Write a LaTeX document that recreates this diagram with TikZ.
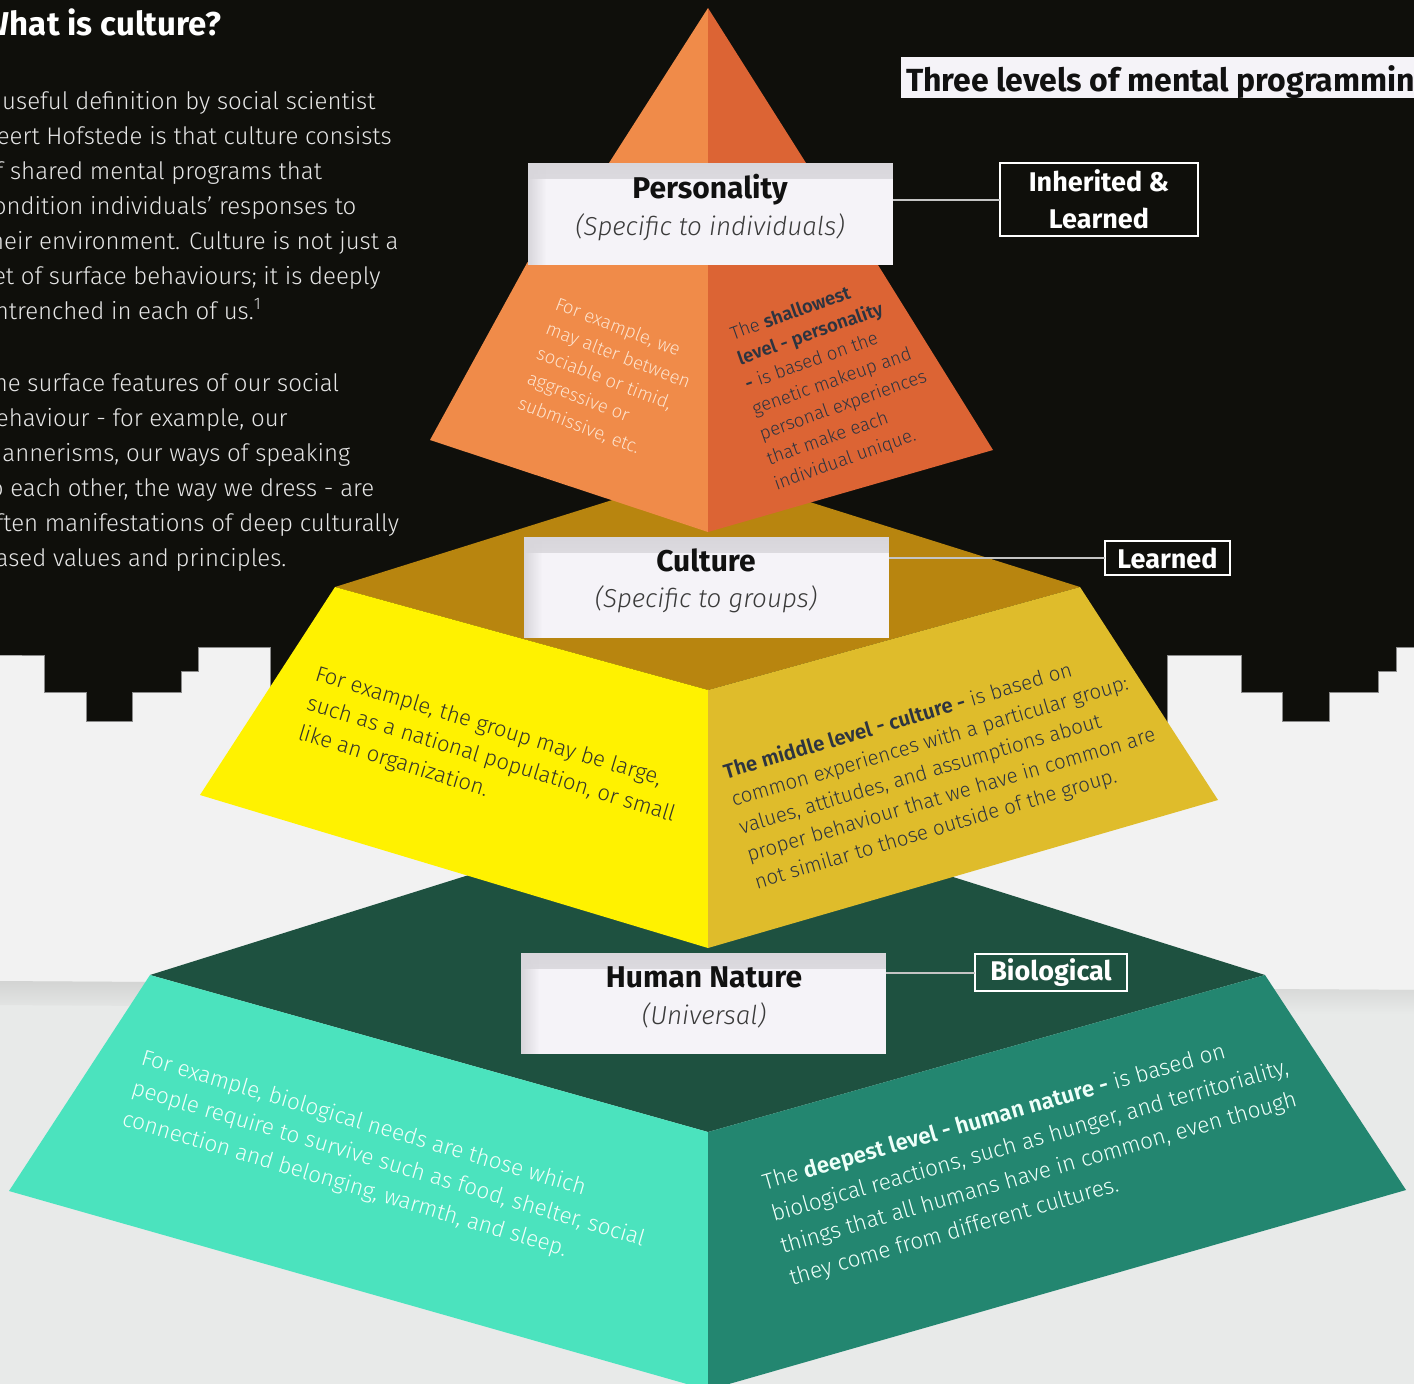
\documentclass[tikz,border=0pt]{standalone}
\usepackage{fontspec}
\usetikzlibrary{fadings}
\setmainfont{Fira Sans}
\newfontfamily\lightfont{Fira Sans}[UprightFont={* Light},ItalicFont={* Light Italic},BoldFont={* SemiBold},BoldItalicFont={* SemiBold Italic}]
\newfontfamily\headfont{Fira Sans}[UprightFont={* Bold}]

\definecolor{darkbg}{HTML}{0F0F0B}
\definecolor{lightbg}{HTML}{F2F2F2}
\definecolor{lowerbg}{HTML}{E8EAE9}
\definecolor{lowershade}{HTML}{D3D4D3}
\definecolor{stepline}{HTML}{8A8A8A}
\definecolor{orangeL}{HTML}{F08B49}
\definecolor{orangeR}{HTML}{DC6434}
\definecolor{goldtop}{HTML}{B8850F}
\definecolor{yellowface}{HTML}{FFF200}
\definecolor{goldface}{HTML}{DFBC2B}
\definecolor{greentop}{HTML}{1E5140}
\definecolor{turq}{HTML}{4BE3BE}
\definecolor{tealface}{HTML}{238670}
\definecolor{boxfill}{HTML}{F5F3F8}
\definecolor{boxshade}{HTML}{D8D6DB}
\definecolor{bodytext}{HTML}{E6E6E6}
\definecolor{conncol}{HTML}{C4C4C4}
\definecolor{peach}{HTML}{FDE2CC}
\definecolor{slate}{HTML}{2D3440}
\definecolor{olivetext}{HTML}{35352A}
\definecolor{paletext}{HTML}{EEFFF9}
\definecolor{headtext}{HTML}{111111}
\definecolor{subtext}{HTML}{3A3A3A}

\begin{document}
\begin{tikzpicture}[x=1pt,y=-1pt,
  every node/.style={inner sep=0pt,outer sep=0pt},
  bodyline/.style={anchor=base west,text=bodytext,font={\lightfont\fontsize{24}{35}\selectfont}},
  facetext/.style={anchor=base west},
  headbox/.style={fill=boxfill,minimum width=365pt,minimum height=102pt,
    path picture={
      \fill[boxshade,path fading=south]
        (path picture bounding box.north west) rectangle ([yshift=-16pt]path picture bounding box.north east);
      \fill[boxshade,path fading=east]
        (path picture bounding box.north west) rectangle ([xshift=18pt]path picture bounding box.south west);
    }},
  headline/.style={anchor=base,text=headtext,font={\headfont\fontsize{30}{36}\selectfont}},
  subline/.style={anchor=base,text=subtext,font={\lightfont\itshape\fontsize{26}{32}\selectfont}},
  tagbox/.style={draw=white,line width=2.5pt,text=white,align=center,
    font={\headfont\fontsize{27}{37}\selectfont}},
  conn/.style={draw=conncol,line width=2pt}
]
\useasboundingbox (0,0) rectangle (1414,1384);
\clip (0,0) rectangle (1414,1384);

% ---- background ----
\fill[darkbg] (0,0) rectangle (1414,1384);
\filldraw[fill=lightbg,draw=stepline,line width=1pt]
  (0,655) -- (44,655) -- (44,692) -- (86,692) -- (86,721) -- (132,721) -- (132,692)
  -- (181,692) -- (181,671) -- (198,671) -- (198,647) -- (270,647) -- (270,740)
  -- (1167,740) -- (1167,655) -- (1241,655) -- (1241,692) -- (1282,692) -- (1282,721)
  -- (1329,721) -- (1329,692) -- (1378,692) -- (1378,671) -- (1396,671) -- (1396,647)
  -- (1420,647) -- (1420,1390) -- (-5,1390) -- (-5,655) -- cycle;
\fill[lowerbg] (-5,981) -- (1420,990) -- (1420,1390) -- (-5,1390) -- cycle;
\shade[top color=lowershade,bottom color=lowerbg] (-5,981) -- (1420,990) -- (1420,1014) -- (-5,1005) -- cycle;

% ---- bottom level: human nature ----
\fill[greentop] (150,975) -- (708,800) -- (1265,975) -- (708,1132) -- cycle;
\fill[turq] (150,975) -- (708,1132) -- (708,1390) -- (9,1191) -- cycle;
\fill[tealface] (708,1132) -- (1265,975) -- (1406,1190) -- (708,1390) -- cycle;

% ---- middle level: culture ----
\fill[goldtop] (335,587) -- (708,470) -- (1080,587) -- (708,690) -- cycle;
\fill[yellowface] (335,587) -- (708,690) -- (708,948) -- (200,795) -- cycle;
\fill[goldface] (708,690) -- (1080,587) -- (1218,800) -- (708,948) -- cycle;

% ---- top level: personality ----
\fill[orangeL] (708,8) -- (609,163) -- (527,263) -- (430,440) -- (708,532) -- cycle;
\fill[orangeR] (708,8) -- (806,163) -- (878,265) -- (993,450) -- (708,532) -- cycle;

% ---- left column text ----
\node[anchor=base west,text=white,font={\headfont\fontsize{33}{36}\selectfont}] (whatis) at (-18,35) {What is culture?};
\foreach \t [count=\i from 0] in {{A useful definition by social scientist},{Geert Hofstede is that culture consists},{of shared mental programs that},{condition individuals’ responses to},{their environment. Culture is not just a},{set of surface behaviours; it is deeply},{entrenched in each of us.\textsuperscript{1}}}
  \node[bodyline] (para\i) at (-18,{109+35*\i}) {\t};
\foreach \t [count=\i from 0] in {{The surface features of our social},{behaviour - for example, our},{mannerisms, our ways of speaking},{to each other, the way we dress - are},{often manifestations of deep culturally},{based values and principles.}}
  \node[bodyline] (parb\i) at (-18,{391+35*\i}) {\t};

% ---- title ----
\node[fill=boxfill,minimum width=520pt,minimum height=41pt,anchor=north west] (titlebox) at (901,57) {};
\node[anchor=base west,text=headtext,font={\headfont\fontsize{32}{36}\selectfont}] (title) at (906,91) {Three levels of mental programming};

% ---- level labels ----
\node[headbox] (pers) at (710.5,214) {};
\node[headline] (persT) at (710,198) {Personality};
\node[subline] (persS) at (710,235) {(Specific to individuals)};

\node[headbox,minimum height=101pt] (cult) at (706.5,587.5) {};
\node[headline] (cultT) at (706,571) {Culture};
\node[subline] (cultS) at (706,607) {(Specific to groups)};

\node[headbox,minimum height=101pt] (hum) at (703.5,1003.5) {};
\node[headline] (humT) at (704,987) {Human Nature};
\node[subline] (humS) at (704,1024) {(Universal)};

% ---- programming tags ----
\node[tagbox,minimum width=198pt,minimum height=73pt] (inh) at (1099,199.5) {Inherited \&\\Learned};
\node[tagbox,minimum width=125pt,minimum height=34pt] (learn) at (1167.5,558) {Learned};
\node[tagbox,minimum width=152pt,minimum height=37pt] (bio) at (1051,972.5) {Biological};

\draw[conn] (inh.west) -- (inh.west -| pers.east);
\draw[conn] (learn.west) -- (learn.west -| cult.east);
\draw[conn] (bio.west) -- (bio.west -| hum.east);

% ---- face texts ----
\foreach \t [count=\i from 0] in {{For example, we},{may alter between},{sociable or timid,},{aggressive or},{submissive, etc.}}
  \node[facetext,rotate=-21,text=peach,font={\lightfont\fontsize{18.5}{20}\selectfont}] (pl\i) at ({554-9.3*\i},{309+24.8*\i}) {\t};

\foreach \t [count=\i from 0] in {{The \textbf{shallowest}},{\textbf{level - personality}},{\textbf{-} is based on the},{genetic makeup and},{personal experiences},{that make each},{individual unique.}}
  \node[facetext,rotate=19.5,text=slate,font={\lightfont\fontsize{18.5}{20}\selectfont}] (pr\i) at ({733+7.3*\i},{340+25*\i}) {\t};

\foreach \t [count=\i from 0] in {{For example, the group may be large,},{such as a national population, or small},{like an organization.}}
  \node[facetext,rotate=-17,text=olivetext,font={\lightfont\fontsize{22}{24}\selectfont}] (cl\i) at ({314-8.5*\i},{680+29.5*\i}) {\t};

\foreach \t [count=\i from 0] in {{\textbf{The middle level - culture -} is based on},{common experiences with a particular group:},{values, attitudes, and assumptions about},{proper behaviour that we have in common are},{not similar to those outside of the group.}}
  \node[facetext,rotate=16.5,text=slate,font={\lightfont\fontsize{20.5}{22}\selectfont}] (cr\i) at ({726+7.75*\i},{779+27.5*\i}) {\t};

\foreach \t [count=\i from 0] in {{For example, biological needs are those which},{people require to survive such as food, shelter, social},{connection and belonging, warmth, and sleep.}}
  \node[facetext,rotate=-16.5,text=paletext,font={\lightfont\fontsize{22.5}{24}\selectfont}] (hl\i) at ({140-9.5*\i},{1064+30.5*\i}) {\t};

\foreach \t [count=\i from 0] in {{The \textbf{deepest level - human nature -} is based on},{biological reactions, such as hunger, and territoriality,},{things that all humans have in common, even though},{they come from different cultures.}}
  \node[facetext,rotate=16,text=paletext,font={\lightfont\fontsize{22.5}{24}\selectfont}] (hr\i) at ({765+9*\i},{1190+31.7*\i}) {\t};

\end{tikzpicture}
\end{document}
